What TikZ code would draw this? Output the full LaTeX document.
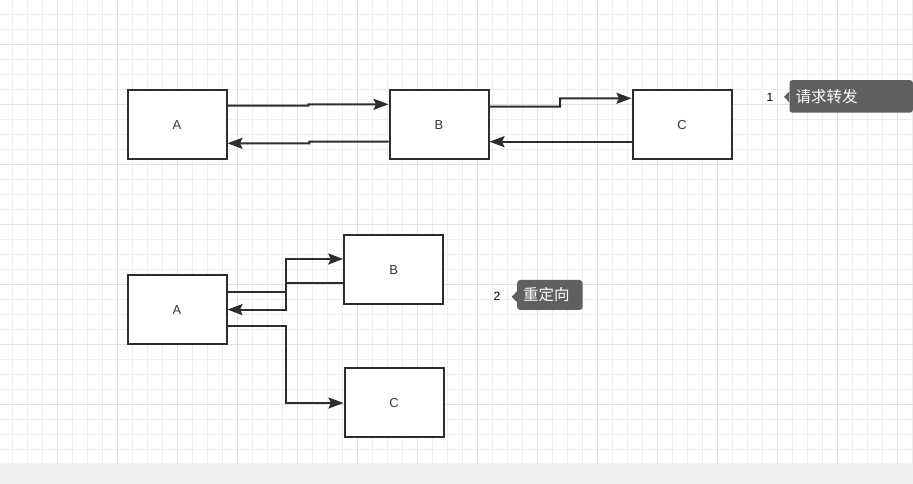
\documentclass[tikz,border=0pt]{standalone}
\usepackage{fontspec}
\setmainfont{Liberation Sans}
\newfontfamily\cjk{Noto Sans CJK SC}
\usepackage{tikz}
\usetikzlibrary{arrows.meta, positioning, calc}
\definecolor{mydark}{RGB}{45,45,45}
\definecolor{mytext}{RGB}{55,55,55}
\definecolor{gridminor}{RGB}{238,238,238}
\definecolor{gridmajor}{RGB}{224,224,224}
\definecolor{bandgray}{RGB}{240,240,240}
\definecolor{tipgray}{RGB}{96,96,96}
\tikzset{
  box/.style={rectangle, draw=mydark, fill=white, line width=2pt,
    minimum width=99pt, minimum height=69pt, inner sep=0pt,
    font=\fontsize{13}{15}\selectfont, text=mytext},
  edge/.style={draw=mydark, line width=2pt,
    -{Stealth[length=15pt,width=11pt,inset=2.5pt]}},
  tipbox/.style={rectangle, fill=tipgray, rounded corners=3pt, text=white,
    inner xsep=6pt, inner ysep=0pt, align=left, anchor=west,
    font=\cjk\fontsize{15.5}{17}\selectfont},
  numlabel/.style={font=\fontsize{12}{14}\selectfont, text=black}
}
\begin{document}
\begin{tikzpicture}[x=1pt, y=1pt]
  \useasboundingbox (0,0) rectangle (913,484);
  \fill[white] (0,21) rectangle (913,484);
  \fill[bandgray] (0,0) rectangle (913,21);
  % grid
  \foreach \k in {0,...,60}
    \draw[gridminor, line width=0.8pt] (12.3+15*\k,21) -- (12.3+15*\k,484);
  \foreach \k in {0,...,30}
    \draw[gridminor, line width=0.8pt] (0,470-15*\k) -- (913,470-15*\k);
  \foreach \k in {0,...,14}
    \draw[gridmajor, line width=0.9pt] (57.3+60*\k,21) -- (57.3+60*\k,484);
  \foreach \k in {0,...,6}
    \draw[gridmajor, line width=0.9pt] (0,440-60*\k) -- (913,440-60*\k);

  % forward
  \node[box] (a1) at (177,359.4) {A};
  \node[box] (b1) at (439,359.4) {B};
  \node[box] (c1) at (682,359.4) {C};
  \draw[edge] ([yshift=18.9]a1.east) -- ++(80.8,0) -- ++(0,1.4) -- ([yshift=20.3]b1.west);
  \draw[edge] ([yshift=-17.1]b1.west) -- ++(-79.2,0) -- ++(0,-1.6) -- ([yshift=-18.7]a1.east);
  \draw[edge] ([yshift=17.9]b1.east) -- ++(70.5,0) -- ++(0,8.4) -- ([yshift=26.3]c1.west);
  \draw[edge] ([yshift=-17.1]c1.west) -- ([yshift=-17.1]b1.east);

  \node[numlabel] (num1) at (770,386.3) {1};
  \node[tipbox, minimum height=32.7pt, text width=111.4pt] (tip1) at (789.3,387.6) {请求转发};
  \fill[tipgray] ([yshift=5]tip1.west) -- ++(-5.3,-5.5) -- ++(5.3,-5.5) -- cycle;

  % redirect
  \node[box] (a2) at (177,174.4) {A};
  \node[box] (b2) at (393.7,214.3) {B};
  \node[box] (c2) at (394,81) {C};
  \draw[edge] ([yshift=17.3]a2.east) -- ++(58.2,0) |- ([yshift=10.7]b2.west);
  \draw[edge] ([yshift=-13.6]b2.west) -- ++(-57.5,0) |- (a2.east);
  \draw[edge] ([yshift=-16.4]a2.east) -- ++(58.2,0) |- (c2.west);

  \node[numlabel] (num2) at (497,187.3) {2};
  \node[tipbox, minimum height=30pt, text width=53.3pt] (tip2) at (517,189) {重定向};
  \fill[tipgray] ([yshift=3.8]tip2.west) -- ++(-5.3,-5.5) -- ++(5.3,-5.5) -- cycle;
\end{tikzpicture}
\end{document}
